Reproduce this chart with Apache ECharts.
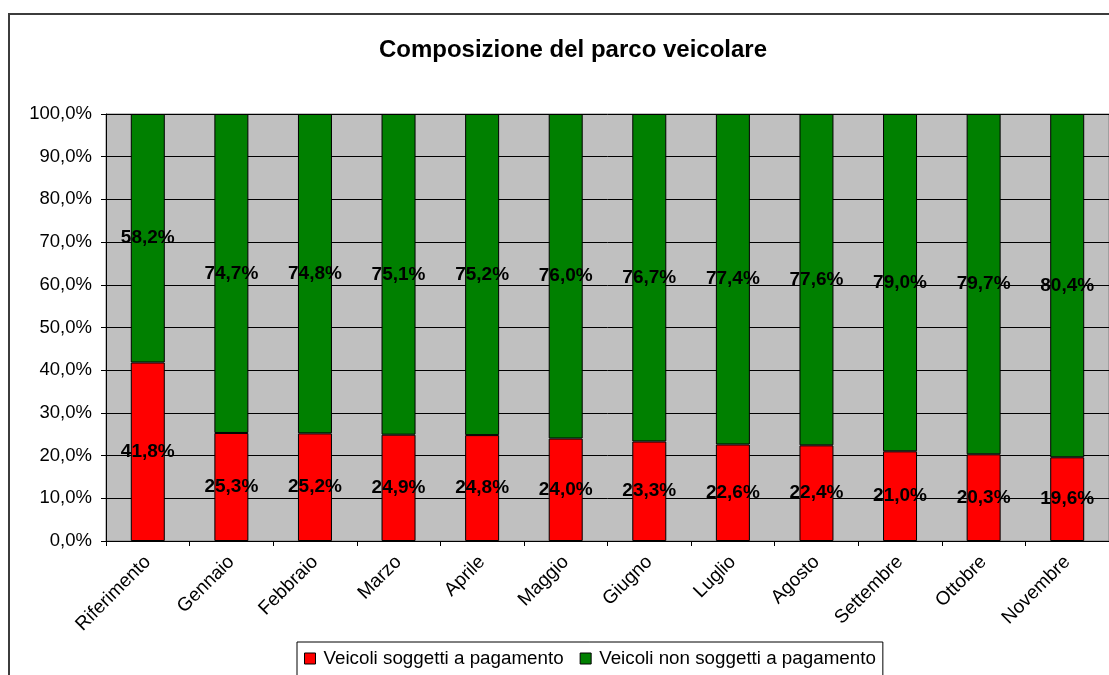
<!DOCTYPE html>
<html>
<head>
<meta charset="utf-8">
<script src="https://cdn.jsdelivr.net/npm/echarts@6/dist/echarts.min.js"></script>
<style>
  html, body { margin: 0; padding: 0; background: #ffffff; }
  #chart { width: 1109px; height: 675px; }
</style>
</head>
<body>
<div id="chart"></div>
<script>
// Categories along the horizontal axis
const categories = ['Riferimento', 'Gennaio', 'Febbraio', 'Marzo', 'Aprile', 'Maggio',
  'Giugno', 'Luglio', 'Agosto', 'Settembre', 'Ottobre', 'Novembre'];

// Share of vehicles (percent) for each category
const paidShare = [41.8, 25.3, 25.2, 24.9, 24.8, 24.0, 23.3, 22.6, 22.4, 21.0, 20.3, 19.6];
const freeShare = [58.2, 74.7, 74.8, 75.1, 75.2, 76.0, 76.7, 77.4, 77.6, 79.0, 79.7, 80.4];

const seriesNames = ['Veicoli soggetti a pagamento', 'Veicoli non soggetti a pagamento'];
const chartTitle = 'Composizione del parco veicolare';

const FONT = '"Liberation Sans", Arial, sans-serif';

function pct(v) {
  return v.toFixed(1).replace('.', ',') + '%';
}

const chart = echarts.init(document.getElementById('chart'), null, { renderer: 'canvas' });

const dataLabel = {
  show: true,
  position: 'inside',
  color: '#000',
  fontFamily: FONT,
  fontWeight: 'bold',
  fontSize: 19,
  formatter: p => pct(p.value)
};

chart.setOption({
  backgroundColor: '#ffffff',
  animation: false,
  title: {
    text: chartTitle,
    left: 568,
    top: 33,
    textAlign: 'center',
    textStyle: { fontFamily: FONT, fontWeight: 'bold', fontSize: 24, color: '#000' }
  },
  graphic: [{
    type: 'rect',
    shape: { x: 9, y: 14, width: 1300, height: 900 },
    style: { fill: 'none', stroke: '#3c3c3c', lineWidth: 2 },
    z: 100
  }],
  legend: {
    left: 297,
    top: 642,
    orient: 'horizontal',
    itemWidth: 11,
    itemHeight: 11,
    itemGap: 16,
    padding: [7, 7, 12, 7],
    backgroundColor: '#ffffff',
    borderColor: '#000',
    borderWidth: 1,
    icon: 'rect',
    textStyle: { fontFamily: FONT, fontSize: 18.8, color: '#000', padding: [0, 0, 0, 3] },
    data: seriesNames.map(n => ({ name: n, itemStyle: { borderColor: '#000', borderWidth: 1 } }))
  },
  grid: {
    left: 106,
    top: 114,
    width: 1015,
    height: 427,
    show: true,
    backgroundColor: '#c0c0c0',
    borderColor: '#808080',
    borderWidth: 1
  },
  xAxis: {
    type: 'category',
    data: categories,
    boundaryGap: true,
    axisLine: { show: true, lineStyle: { color: '#000', width: 1 } },
    axisTick: { show: true, length: 5, lineStyle: { color: '#000' } },
    axisLabel: {
      rotate: 45,
      interval: 0,
      margin: 18,
      fontFamily: FONT,
      fontSize: 19,
      color: '#000'
    }
  },
  yAxis: {
    type: 'value',
    min: 0,
    max: 100,
    interval: 10,
    axisLine: { show: true, lineStyle: { color: '#000', width: 1 } },
    axisTick: { show: true, length: 5, lineStyle: { color: '#000' } },
    splitLine: { show: true, lineStyle: { color: '#000', width: 1 } },
    axisLabel: {
      margin: 14,
      fontFamily: FONT,
      fontSize: 18.5,
      color: '#000',
      formatter: v => pct(v)
    }
  },
  series: [
    {
      name: seriesNames[0],
      type: 'bar',
      stack: 'parco',
      barWidth: 34,
      data: paidShare,
      itemStyle: { color: '#ff0000', borderColor: '#000', borderWidth: 1 },
      label: dataLabel
    },
    {
      name: seriesNames[1],
      type: 'bar',
      stack: 'parco',
      barWidth: 34,
      data: freeShare,
      itemStyle: { color: '#008000', borderColor: '#000', borderWidth: 1 },
      label: dataLabel
    }
  ]
});
</script>
</body>
</html>
